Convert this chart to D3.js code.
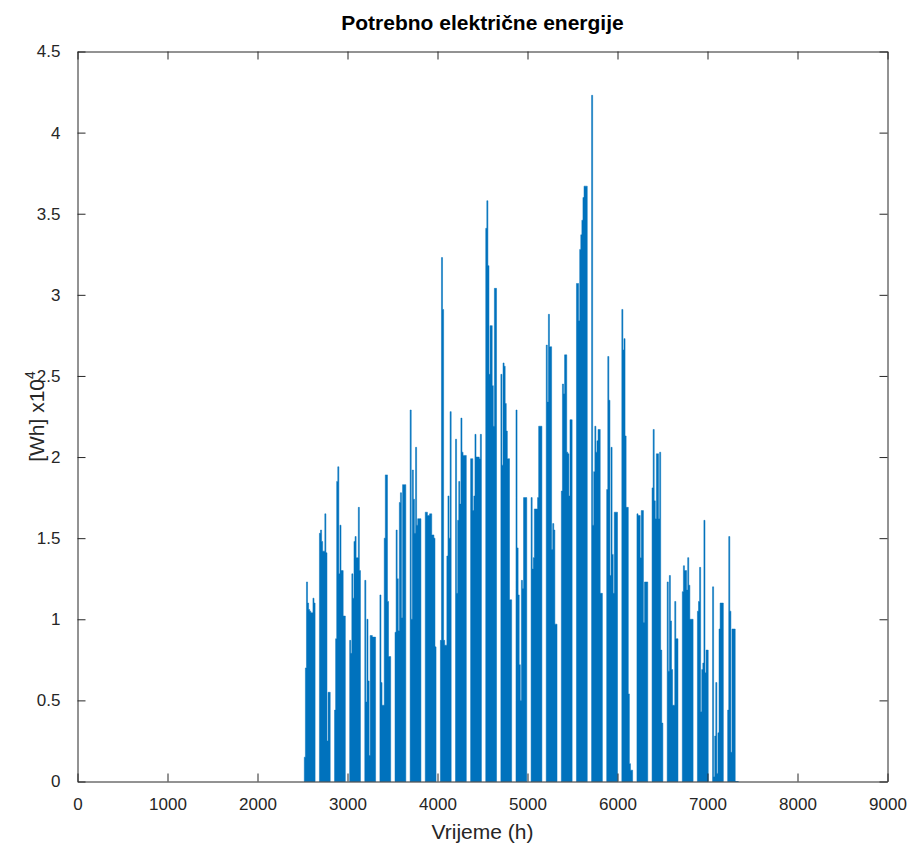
<!DOCTYPE html>
<html>
<head>
<meta charset="utf-8">
<script src="https://cdn.jsdelivr.net/npm/d3@7/dist/d3.min.js"></script>
<style>
  html, body { margin: 0; padding: 0; background: #fff; }
  svg { display: block; }
  text { font-family: "Liberation Sans", Arial, Helvetica, sans-serif; fill: #262626; }
</style>
</head>
<body>
<svg id="chart" width="913" height="845"></svg>
<script>
// ---- data (values in units of 10^4 Wh) ----
const titleText = "Potrebno električne energije";
const xLabelText = "Vrijeme (h)";
const firstWeekHour = 2520;      // start hour of the first working week
const hoursPerWeek = 168;
const hoursPerStep = 12;         // each value covers a half day
const xTicks = [0, 1000, 2000, 3000, 4000, 5000, 6000, 7000, 8000, 9000];
const yTicks = [0, 0.5, 1, 1.5, 2, 2.5, 3, 3.5, 4, 4.5];

// half-day values for each working week (Mon..Fri)
const weeklyValues = [
  [0.15, 0.70, 1.23, 1.10, 1.06, 1.05, 1.04, 1.04, 1.13, 1.10],
  [1.53, 1.55, 1.48, 1.42, 1.42, 1.65, 1.41, 0.25, 0.55, 0.55],
  [0.44, 0.88, 1.85, 1.94, 1.28, 1.58, 1.30, 1.30, 1.02, 1.02],
  [0.87, 0.79, 1.28, 1.13, 1.48, 1.51, 1.38, 1.38, 1.69, 1.30],
  [1.24, 0.49, 1.00, 0.62, 0.16, 0.90, 0.90, 0.89, 0.89, 0.89],
  [1.15, 0.61, 0.47, 0.47, 1.50, 1.89, 1.89, 1.11, 0.77, 0.77],
  [0.92, 1.55, 1.25, 0.93, 1.72, 1.78, 1.01, 1.83, 1.83, 1.83],
  [2.29, 1.00, 1.92, 1.74, 1.53, 2.06, 1.58, 1.62, 1.62, 1.62],
  [1.66, 1.66, 1.64, 1.64, 1.65, 1.65, 1.52, 1.52, 1.50, 0.83],
  [0.87, 3.23, 2.91, 0.87, 0.84, 0.84, 1.39, 1.76, 1.50, 2.28],
  [2.11, 1.16, 1.61, 1.85, 1.71, 2.24, 2.03, 2.01, 2.01, 2.01],
  [1.99, 1.99, 1.67, 1.76, 2.14, 2.00, 2.00, 2.00, 1.99, 2.14],
  [3.41, 3.58, 3.18, 2.51, 2.81, 2.81, 2.44, 2.19, 3.04, 3.04],
  [2.51, 1.95, 2.58, 2.56, 2.33, 2.16, 1.99, 1.99, 1.12, 1.12],
  [2.29, 1.44, 1.15, 0.72, 0.50, 1.24, 1.19, 1.75, 1.75, 1.75],
  [1.75, 1.31, 1.38, 1.68, 1.68, 1.68, 1.75, 2.19, 2.19, 2.19],
  [2.69, 2.34, 2.88, 2.68, 2.68, 1.43, 1.59, 1.55, 0.97, 0.97],
  [1.79, 2.45, 2.39, 2.63, 2.63, 2.03, 2.02, 1.76, 2.23, 2.23],
  [3.07, 3.07, 2.84, 3.28, 3.37, 3.46, 3.60, 3.67, 3.67, 3.67],
  [4.23, 1.58, 1.91, 2.19, 2.03, 2.10, 2.17, 2.17, 1.16, 1.16],
  [1.80, 2.62, 2.35, 1.27, 2.06, 1.40, 1.16, 1.66, 1.66, 1.66],
  [2.91, 2.66, 2.73, 2.13, 1.69, 1.69, 0.54, 0.11, 0.07, 0.07],
  [1.65, 1.64, 1.64, 1.38, 1.67, 1.67, 0.98, 1.23, 1.23, 1.23],
  [1.81, 2.17, 1.73, 1.62, 2.02, 2.02, 1.62, 2.03, 0.81, 0.36],
  [1.23, 0.68, 1.27, 0.99, 0.69, 0.47, 0.47, 1.11, 0.88, 0.88],
  [1.17, 1.33, 1.30, 1.30, 1.18, 1.38, 1.21, 1.00, 1.00, 1.00],
  [1.05, 1.11, 1.32, 0.43, 0.69, 0.73, 1.61, 0.67, 0.81, 0.81],
  [1.20, 0.03, 0.28, 0.61, 0.05, 0.30, 0.94, 1.10, 1.10, 1.10],
  [0.44, 1.51, 1.05, 0.18, 0.94, 0.94, 0.94, 0, 0, 0]
];

// ---- layout ----
const svg = d3.select("#chart");
const margin = { left: 77.5, top: 51.5, right: 913 - 887.5, bottom: 845 - 781.5 };
const W = 913 - margin.left - margin.right;
const H = 845 - margin.top - margin.bottom;
const axisColor = "#262626";
const lineColor = "#0072BD";

const x = d3.scaleLinear().domain([0, 9000]).range([0, W]);
const y = d3.scaleLinear().domain([0, 4.5]).range([H, 0]);

const g = svg.append("g").attr("transform", `translate(${margin.left},${margin.top})`);

// data series
const area = d3.area()
  .x(d => x(d.h))
  .y0(y(0))
  .y1(d => y(d.v))
  .curve(d3.curveStepAfter);

weeklyValues.forEach((vals, k) => {
  const start = firstWeekHour + k * hoursPerWeek;
  const pts = vals.map((v, i) => ({ h: start + i * hoursPerStep, v }));
  pts.push({ h: start + vals.length * hoursPerStep, v: 0 });
  g.append("path")
    .datum(pts)
    .attr("d", area)
    .attr("fill", lineColor)
    .attr("stroke", lineColor)
    .attr("stroke-width", 0.5);
});

// axes (MATLAB style: inward ticks on all sides, box)
const tickLen = 8;
const fontSize = 17;

const xAxisB = d3.axisBottom(x).tickValues(xTicks).tickSizeInner(-tickLen).tickSizeOuter(0).tickPadding(16).tickFormat(d3.format("d"));
const xAxisT = d3.axisTop(x).tickValues(xTicks).tickSizeInner(-tickLen).tickSizeOuter(0).tickFormat("");
const yAxisL = d3.axisLeft(y).tickValues(yTicks).tickSizeInner(-tickLen).tickSizeOuter(0).tickPadding(17).tickFormat(d => d3.format("")(d));
const yAxisR = d3.axisRight(y).tickValues(yTicks).tickSizeInner(-tickLen).tickSizeOuter(0).tickFormat("");

function style(sel) {
  sel.select(".domain").attr("stroke", axisColor).attr("stroke-width", 1);
  sel.selectAll(".tick line").attr("stroke", axisColor).attr("stroke-width", 1);
  sel.selectAll(".tick text").attr("fill", "#404040").style("font-size", fontSize + "px")
    .style("font-family", '"Liberation Sans", Arial, sans-serif');
}
g.append("g").attr("transform", `translate(0,${H})`).call(xAxisB).call(style);
g.append("g").call(xAxisT).call(style);
g.append("g").call(yAxisL).call(style);
g.append("g").attr("transform", `translate(${W},0)`).call(yAxisR).call(style);

// title
svg.append("text")
  .attr("x", margin.left + W / 2)
  .attr("y", 30)
  .attr("text-anchor", "middle")
  .style("font-size", "21px")
  .style("font-weight", "bold")
  .attr("fill", "#000")
  .style("fill", "#000")
  .text(titleText);

// x label
svg.append("text")
  .attr("x", margin.left + W / 2)
  .attr("y", 839)
  .attr("text-anchor", "middle")
  .style("font-size", "21px")
  .text(xLabelText);

// y label
const yl = svg.append("text")
  .attr("transform", `translate(44,${margin.top + H / 2}) rotate(-90)`)
  .attr("text-anchor", "middle")
  .style("font-size", "21px");
yl.append("tspan").text("[Wh] x10");
yl.append("tspan").attr("dy", -9).style("font-size", "14px").text("4");
</script>
</body>
</html>
